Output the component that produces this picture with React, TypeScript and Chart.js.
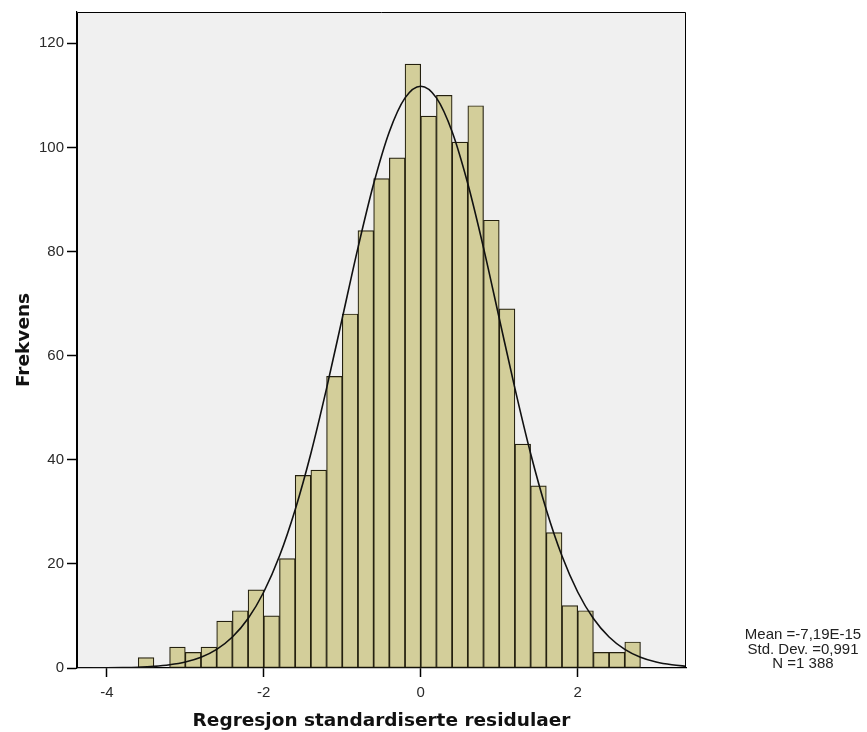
import React, { useEffect, useRef } from "react";
import { Chart, registerables } from "chart.js";

Chart.register(...registerables);

// Histogram bins (centres, width 0.2) and counts
const binCenters = [
  -3.5, -3.3, -3.1, -2.9, -2.7, -2.5, -2.3, -2.1, -1.9, -1.7, -1.5, -1.3, -1.1, -0.9, -0.7, -0.5,
  -0.3, -0.1, 0.1, 0.3, 0.5, 0.7, 0.9, 1.1, 1.3, 1.5, 1.7, 1.9, 2.1, 2.3, 2.5, 2.7,
];
const binCounts = [
  2, 0, 4, 3, 4, 9, 11, 15, 10, 21, 37, 38, 56, 68, 84, 94,
  98, 116, 106, 110, 101, 108, 86, 69, 43, 35, 26, 12, 11, 3, 3, 5,
];

// Fitted normal curve
const curveX = [
  -4.4, -4.2, -4.0, -3.8, -3.6, -3.4, -3.2, -3.0, -2.8, -2.6, -2.4, -2.2, -2.0, -1.8, -1.6, -1.4,
  -1.2, -1.0, -0.8, -0.6, -0.4, -0.2, 0.0, 0.2, 0.4, 0.6, 0.8, 1.0, 1.2, 1.4, 1.6, 1.8,
  2.0, 2.2, 2.4, 2.6, 2.8, 3.0, 3.2, 3.4,
];
const curveY = [
  0.006, 0.014, 0.03, 0.07, 0.15, 0.31, 0.61, 1.14, 2.06, 3.58, 5.95, 9.5, 14.6, 21.5, 30.4, 41.2,
  53.7, 67.2, 80.7, 93.0, 103.0, 109.5, 111.75, 109.5, 103.0, 93.0, 80.7, 67.2, 53.7, 41.2, 30.4, 21.5,
  14.6, 9.5, 5.95, 3.58, 2.06, 1.14, 0.61, 0.31,
];

const xTicks = [-4, -2, 0, 2];
const yTicks = [0, 20, 40, 60, 80, 100, 120];
const xMin = -4.38;
const xMax = 3.38;
const yMin = 0;
const yMax = 126;

const xTitle = "Regresjon standardiserte residulaer";
const yTitle = "Frekvens";
const statsLines = ["Mean =-7,19E-15", "Std. Dev. =0,991", "N =1 388"];

const TICK_FONT = '"Liberation Sans", Arial, sans-serif';
const TITLE_FONT = '"DejaVu Sans", Verdana, sans-serif';

const boxPlugin = {
  id: "boxPlugin",
  beforeDraw(chart: any) {
    const { ctx, chartArea } = chart;
    const { left, top, right, bottom } = chartArea;
    ctx.save();
    ctx.fillStyle = "#F0F0F0";
    ctx.fillRect(left, top, right - left, bottom - top);
    ctx.restore();
  },
  afterDraw(chart: any) {
    const { ctx, chartArea } = chart;
    const l = Math.round(chartArea.left) + 0.5;
    const t = Math.round(chartArea.top) + 0.5;
    const r = Math.round(chartArea.right) - 0.5;
    const b = Math.round(chartArea.bottom) - 0.5;
    ctx.save();
    ctx.strokeStyle = "#000";
    ctx.lineWidth = 1;
    ctx.beginPath();
    ctx.moveTo(l, b);
    ctx.lineTo(l, t);
    ctx.lineTo(r, t);
    ctx.lineTo(r, b);
    ctx.stroke();
    ctx.fillStyle = "#222";
    ctx.font = `15px ${TICK_FONT}`;
    ctx.textAlign = "center";
    ctx.textBaseline = "middle";
    const ys = [635, 649.5, 664];
    statsLines.forEach((s, i) => ctx.fillText(s, 803, ys[i]));
    ctx.restore();
  },
};

export default function App() {
  const ref = useRef<HTMLCanvasElement | null>(null);

  useEffect(() => {
    if (!ref.current) return;
    const chart = new Chart(ref.current, {
      type: "bar",
      data: {
        datasets: [
          {
            type: "line",
            data: curveX.map((x, i) => ({ x, y: curveY[i] })),
            borderColor: "#111",
            borderWidth: 1.6,
            pointRadius: 0,
            fill: false,
            cubicInterpolationMode: "monotone",
            order: 1,
          } as any,
          {
            type: "bar",
            data: binCenters.map((x, i) => ({ x, y: binCounts[i] })),
            backgroundColor: "#D3CE9A",
            borderColor: "#24200F",
            borderWidth: 1.2,
            borderSkipped: false,
            barPercentage: 1,
            categoryPercentage: 1,
            order: 2,
          } as any,
        ],
      },
      options: {
        responsive: false,
        animation: false,
        layout: { padding: { top: 11, right: 181, left: 0, bottom: 0 } },
        plugins: {
          legend: { display: false },
          tooltip: { enabled: false },
        },
        scales: {
          x: {
            type: "linear",
            min: xMin,
            max: xMax,
            offset: false,
            grid: {
              display: true,
              drawOnChartArea: false,
              drawTicks: true,
              tickLength: 9,
              tickColor: "#000",
              tickWidth: 1.5,
              offset: false,
            },
            border: { display: true, color: "#000", width: 1.2 },
            ticks: {
              autoSkip: false,
              maxRotation: 0,
              minRotation: 0,
              padding: 7,
              color: "#2a2a2a",
              font: { family: TICK_FONT, size: 15 },
              callback: (v: any) => String(v),
            },
            afterBuildTicks: (s: any) => {
              s.ticks = xTicks.map((v) => ({ value: v }));
            },
            afterFit: (s: any) => {
              s.height = 64;
            },
            title: {
              display: true,
              text: xTitle,
              color: "#111",
              font: { family: TITLE_FONT, size: 18.5, weight: "bold" },
              padding: { top: 0, bottom: 0 },
            },
          },
          y: {
            type: "linear",
            min: yMin,
            max: yMax,
            grid: {
              display: true,
              drawOnChartArea: false,
              drawTicks: true,
              tickLength: 10,
              tickColor: "#000",
              tickWidth: 1.5,
            },
            border: { display: true, color: "#000", width: 1.2 },
            ticks: {
              autoSkip: false,
              padding: 3,
              color: "#2a2a2a",
              font: { family: TICK_FONT, size: 15 },
              callback: (v: any) => String(v),
            },
            afterBuildTicks: (s: any) => {
              s.ticks = yTicks.map((v) => ({ value: v }));
            },
            afterFit: (s: any) => {
              s.width = 77;
            },
            title: {
              display: true,
              text: yTitle,
              color: "#111",
              font: { family: TITLE_FONT, size: 18.5, weight: "bold" },
              padding: { top: 13, bottom: 0 },
            },
          },
        },
      } as any,
      plugins: [boxPlugin],
    });
    return () => chart.destroy();
  }, []);

  return (
    <div style={{ position: "absolute", left: 0, top: 0, width: 867, height: 732, background: "#fff" }}>
      <canvas ref={ref} width={867} height={732} style={{ display: "block", width: 867, height: 732 }} />
    </div>
  );
}
